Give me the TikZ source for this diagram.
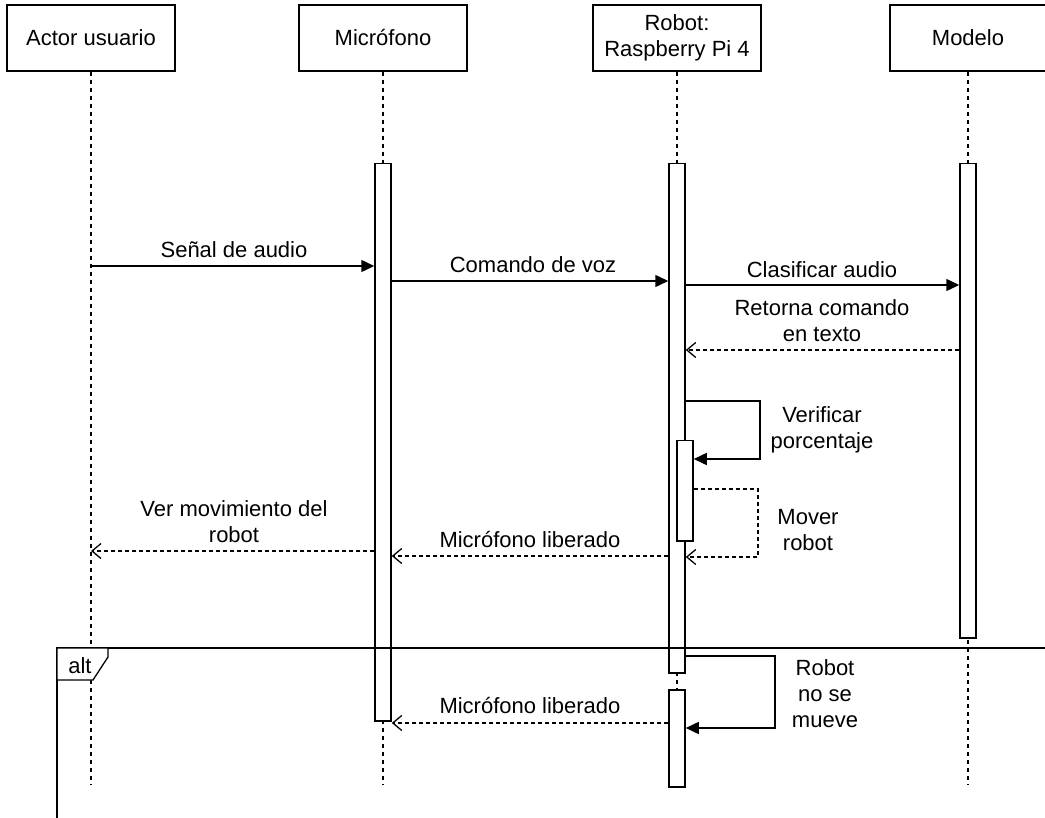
\documentclass[tikz,border=0pt]{standalone}
\usepackage{fontspec}
\setmainfont{Liberation Sans}
\usetikzlibrary{arrows.meta}
\begin{document}
\begin{tikzpicture}[x=1pt,y=-1pt,
  every node/.style={font=\fontsize{22}{26}\selectfont},
  head/.style={draw,line width=1.5pt,minimum width=168pt,minimum height=66pt,inner sep=0pt,align=center,fill=white},
  life/.style={line width=1.4pt,dash pattern=on 4pt off 4pt},
  bar/.style={draw,line width=1.5pt,fill=white,minimum width=16pt,inner sep=0pt,anchor=north},
  syncmsg/.style={line width=1.5pt,-{Triangle[length=13pt,width=12pt]}},
  retmsg/.style={line width=1.3pt,dash pattern=on 4pt off 3pt,-{Straight Barb[length=9pt,width=15pt,line width=1.3pt]}},
  lbl/.style={inner sep=0pt,align=center}]
\useasboundingbox (0,0) rectangle (1045,818);
% headers
\node[head] (act) at (91,38) {Actor usuario};
\node[head] (mic) at (383,38) {Micrófono};
\node[head] (rob) at (677,38) {Robot:\\Raspberry Pi 4};
\node[head,minimum width=156pt] (mod) at (968,38) {Modelo};
% lifeline ends
\coordinate (actend) at (91,785);
\coordinate (micend) at (383,785);
\coordinate (robend) at (677,785);
\coordinate (modend) at (968,785);
\draw[life] (act.south) -- (actend);
\draw[life] (mic.south) -- (micend);
\draw[life] (rob.south) -- (robend);
\draw[life] (mod.south) -- (modend);
% activation bars
\node[bar,minimum height=557pt] (micbar) at (383,163) {};
\node[bar,minimum height=509pt] (robbar) at (677,163) {};
\node[bar,minimum height=474pt] (modbar) at (968,163) {};
\node[bar,minimum height=100pt] (nestbar) at (685,440) {};
\node[bar,minimum height=97pt] (robbar2) at (677,689) {};
% messages
\draw[syncmsg] (act.south |- 0,266) -- (micbar.west |- 0,266);
\node[lbl] (l1) at (234,250) {Señal de audio};
\draw[syncmsg] (micbar.east |- 0,281) -- (robbar.west |- 0,281);
\node[lbl] (l2) at (533,265) {Comando de voz};
\draw[syncmsg] (robbar.east |- 0,285) -- (modbar.west |- 0,285);
\node[lbl] (l3) at (822,270) {Clasificar audio};
\draw[retmsg] (modbar.west |- 0,350) -- (robbar.east |- 0,350);
\node[lbl] (l4) at (822,321) {Retorna comando\\en texto};
% self message verificar
\coordinate (v1) at (760,401);
\coordinate (v2) at (760,459);
\draw[syncmsg] (robbar.east |- v1) -- (v1) -- (v2) -- (nestbar.east |- v2);
\node[lbl] (l5) at (822,430) {Verificar\\porcentaje};
% self message mover
\coordinate (m1) at (758,489);
\coordinate (m2) at (758,557);
\draw[retmsg] (nestbar.east |- m1) -- (m1) -- (m2) -- (robbar.east |- m2);
\node[lbl] (l6) at (808,530) {Mover\\robot};
% liberado
\draw[retmsg] (robbar.west |- 0,556) -- (micbar.east |- 0,556);
\node[lbl] (l7) at (530,540) {Micrófono liberado};
\draw[retmsg] (micbar.west |- 0,551) -- (act.south |- 0,551);
\node[lbl] (l8) at (234,522) {Ver movimiento del\\robot};
% alt frame
\coordinate (fa) at (57,648);
\coordinate (fb) at (1045,648);
\coordinate (fc) at (57,818);
\draw[line width=1.5pt] (fb) -- (fa) -- (fc);
\coordinate (t1) at (57,680);
\coordinate (t2) at (93,680);
\coordinate (t3) at (108,657);
\coordinate (t4) at (108,648);
\draw[line width=1.3pt,fill=white] (fa) -- (t1) -- (t2) -- (t3) -- (t4) -- cycle;
\node[lbl] (alt) at (80,666) {alt};
% robot no se mueve
\coordinate (n1) at (775,656);
\coordinate (n2) at (775,728);
\draw[syncmsg] (robbar.east |- n1) -- (n1) -- (n2) -- (robbar2.east |- n2);
\node[lbl] (l9) at (825,694) {Robot\\no se\\mueve};
\draw[retmsg] (robbar2.west |- 0,723) -- (micbar.east |- 0,723);
\node[lbl] (l10) at (530,706) {Micrófono liberado};
\end{tikzpicture}
\end{document}
